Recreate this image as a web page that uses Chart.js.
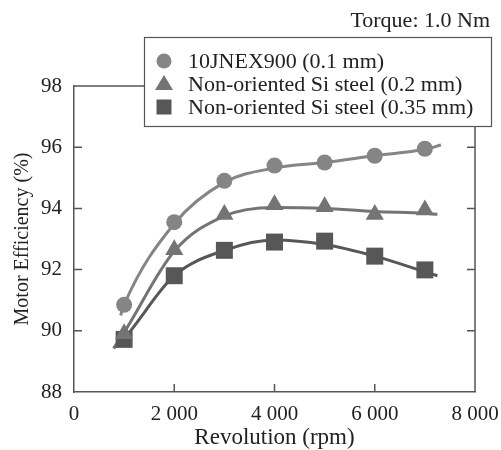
<!DOCTYPE html>
<html>
<head>
<meta charset="utf-8">
<script src="https://cdn.jsdelivr.net/npm/chart.js@4/dist/chart.umd.min.js"></script>
<style>
  body { margin: 0; background: #fff; }
</style>
</head>
<body>
<canvas id="efficiency-chart" width="501" height="450"></canvas>
<script>
// measured points
const rpm = [1000, 2000, 3000, 4000, 5000, 6000, 7000];
const effJnex = [90.85, 93.55, 94.9, 95.4, 95.5, 95.72, 95.95];
const effSi20 = [89.9, 92.65, 93.8, 94.12, 94.05, 93.8, 93.95];
const effSi35 = [89.72, 91.8, 92.63, 92.9, 92.93, 92.44, 91.99];

// fitted curves
const fitJnexRpm = [930, 1000, 2000, 3000, 4000, 5000, 6000, 7000, 7320];
const fitJnex = [90.5, 90.85, 93.5, 94.85, 95.32, 95.5, 95.72, 95.93, 96.07];
const fitSi20Rpm = [790, 1000, 2000, 3000, 4000, 5000, 6000, 7000, 7250];
const fitSi20 = [89.43, 89.95, 92.6, 93.75, 94.03, 94.0, 93.9, 93.84, 93.81];
const fitSi35Rpm = [790, 1000, 2000, 3000, 4000, 5000, 6000, 7000, 7250];
const fitSi35 = [89.43, 89.75, 91.8, 92.63, 92.97, 92.82, 92.44, 91.93, 91.8];

const labels = ['10JNEX900 (0.1 mm)', 'Non-oriented Si steel (0.2 mm)', 'Non-oriented Si steel (0.35 mm)'];
const xTicks = [0, 2000, 4000, 6000, 8000];
const yTicks = [88, 90, 92, 94, 96, 98];
const titleText = 'Torque: 1.0 Nm';

const FONT = '"Liberation Serif", "Times New Roman", serif';
const AXIS = '#555';
const TEXT = '#222';

function pts(xs, ys) {
  return xs.map((x, i) => ({ x: x, y: ys[i] }));
}

function markers(label, xs, ys, style, color, radius) {
  return {
    label: label,
    data: pts(xs, ys),
    showLine: false,
    pointStyle: style,
    pointRadius: radius,
    pointBackgroundColor: color,
    pointBorderColor: color,
    pointBorderWidth: 0,
    order: 0
  };
}

function curve(xs, ys, color) {
  return {
    label: '',
    data: pts(xs, ys),
    showLine: true,
    borderColor: color,
    borderWidth: 3,
    pointRadius: 0,
    tension: 0.4,
    cubicInterpolationMode: 'monotone',
    order: 1
  };
}

// inner ticks + top/right frame
const framePlugin = {
  id: 'frame',
  beforeDatasetsDraw(chart) {
    const { ctx, chartArea: a, scales: { x, y } } = chart;
    ctx.save();
    ctx.strokeStyle = AXIS;
    ctx.lineWidth = 1.5;
    ctx.beginPath();
    ctx.moveTo(a.left, a.top);
    ctx.lineTo(a.right, a.top);
    ctx.lineTo(a.right, a.bottom);
    yTicks.slice(1, -1).forEach(v => {
      const py = y.getPixelForValue(v);
      ctx.moveTo(a.left, py); ctx.lineTo(a.left + 8, py);
      ctx.moveTo(a.right, py); ctx.lineTo(a.right - 8, py);
    });
    xTicks.slice(1, -1).forEach(v => {
      const px = x.getPixelForValue(v);
      ctx.moveTo(px, a.bottom); ctx.lineTo(px, a.bottom - 8);
    });
    ctx.stroke();
    ctx.restore();
  }
};

function drawMarker(ctx, style, cx, cy, color) {
  ctx.fillStyle = color;
  ctx.beginPath();
  if (style === 'circle') {
    ctx.arc(cx, cy, 7.5, 0, Math.PI * 2);
  } else if (style === 'triangle') {
    ctx.moveTo(cx, cy - 9);
    ctx.lineTo(cx + 9, cy + 6);
    ctx.lineTo(cx - 9, cy + 6);
    ctx.closePath();
  } else {
    ctx.rect(cx - 7.5, cy - 7.5, 15, 15);
  }
  ctx.fill();
}

// title top right + boxed legend drawn over the top border
const legendPlugin = {
  id: 'boxLegend',
  afterDraw(chart) {
    const ctx = chart.ctx;
    const sets = chart.data.datasets.filter(d => !d.showLine);
    ctx.save();
    ctx.font = '22px ' + FONT;
    ctx.textBaseline = 'middle';
    ctx.textAlign = 'right';
    ctx.fillStyle = TEXT;
    ctx.fillText(titleText, 490, 21);

    ctx.fillStyle = '#fff';
    ctx.fillRect(144, 37, 347, 89);
    ctx.strokeStyle = AXIS;
    ctx.lineWidth = 1.2;
    ctx.strokeRect(144.5, 37.5, 347, 89);
    ctx.textAlign = 'left';
    sets.forEach((d, i) => {
      const cy = 61 + i * 23;
      drawMarker(ctx, d.pointStyle, 164, cy, d.pointBackgroundColor);
      ctx.fillStyle = TEXT;
      ctx.fillText(d.label, 188, cy + 1);
    });
    ctx.restore();
  }
};

const ctx = document.getElementById('efficiency-chart').getContext('2d');

const chart = new Chart(ctx, {
  type: 'line',
  data: {
    datasets: [
      markers(labels[0], rpm, effJnex, 'circle', '#858585', 8),
      markers(labels[1], rpm, effSi20, 'triangle', '#747474', 10.5),
      markers(labels[2], rpm, effSi35, 'rect', '#575757', 12),
      curve(fitJnexRpm, fitJnex, '#858585'),
      curve(fitSi20Rpm, fitSi20, '#747474'),
      curve(fitSi35Rpm, fitSi35, '#575757')
    ]
  },
  options: {
    responsive: false,
    animation: false,
    layout: { padding: { left: 0, right: 26, top: 86, bottom: 0 } },
    plugins: {
      legend: { display: false },
      tooltip: { enabled: false },
      title: { display: false }
    },
    scales: {
      x: {
        type: 'linear',
        min: 0,
        max: 8000,
        afterBuildTicks: s => { s.ticks = xTicks.map(v => ({ value: v })); },
        afterFit: s => { s.height = 58; s.paddingLeft = 0; s.paddingRight = 0; },
        grid: { display: false, drawTicks: false },
        border: { display: true, color: AXIS, width: 1.5 },
        ticks: {
          color: TEXT,
          padding: 10,
          maxRotation: 0,
          font: { family: FONT, size: 21 },
          callback: v => String(v).replace(/\B(?=(\d{3})+(?!\d))/g, ' ')
        },
        title: {
          display: true,
          text: 'Revolution (rpm)',
          color: TEXT,
          font: { family: FONT, size: 23, lineHeight: 1.05 },
          padding: { top: 0, bottom: 0 }
        }
      },
      y: {
        min: 88,
        max: 98,
        afterBuildTicks: s => { s.ticks = yTicks.map(v => ({ value: v })); },
        afterFit: s => { s.width = 74; s.paddingTop = 0; s.paddingBottom = 0; },
        grid: { display: false, drawTicks: false },
        border: { display: true, color: AXIS, width: 1.5 },
        ticks: {
          color: TEXT,
          padding: 12,
          font: { family: FONT, size: 21 }
        },
        title: {
          display: true,
          text: 'Motor Efficiency (%)',
          color: TEXT,
          font: { family: FONT, size: 20, lineHeight: 1.2 },
          padding: { top: 11, bottom: 0 }
        }
      }
    }
  },
  plugins: [framePlugin, legendPlugin]
});
</script>
</body>
</html>
